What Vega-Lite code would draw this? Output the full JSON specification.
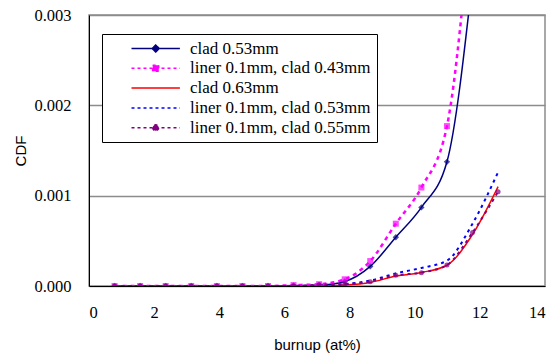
{
  "$schema": "https://vega.github.io/schema/vega-lite/v6.json",
  "autosize": {"type": "none"},
  "padding": {"left": 89, "top": 15, "right": 7, "bottom": 67},
  "width": 456,
  "height": 271,
  "background": "white",
  "config": {
    "font": "Liberation Serif",
    "view": {"stroke": "#8c8c8c", "strokeWidth": 1.5},
    "axis": {"domainColor": "black", "domainWidth": 1, "tickColor": "#333333", "labelColor": "black", "titleColor": "black"}
  },
  "data": {
    "values": [
      {"s": "clad 0.53mm", "x": 0.785, "y": 0},
      {"s": "clad 0.53mm", "x": 1.57, "y": 0},
      {"s": "clad 0.53mm", "x": 2.355, "y": 0},
      {"s": "clad 0.53mm", "x": 3.14, "y": 0},
      {"s": "clad 0.53mm", "x": 3.925, "y": 0},
      {"s": "clad 0.53mm", "x": 4.71, "y": 0},
      {"s": "clad 0.53mm", "x": 5.495, "y": 0},
      {"s": "clad 0.53mm", "x": 6.28, "y": 0.000005},
      {"s": "clad 0.53mm", "x": 7.065, "y": 0.00001},
      {"s": "clad 0.53mm", "x": 7.85, "y": 0.00005},
      {"s": "clad 0.53mm", "x": 8.635, "y": 0.000217},
      {"s": "clad 0.53mm", "x": 9.42, "y": 0.00054},
      {"s": "clad 0.53mm", "x": 10.205, "y": 0.00087},
      {"s": "clad 0.53mm", "x": 10.99, "y": 0.001375},
      {"s": "clad 0.53mm", "x": 11.775, "y": 0.0034},
      {"s": "liner 0.1mm, clad 0.43mm", "x": 0.785, "y": 0},
      {"s": "liner 0.1mm, clad 0.43mm", "x": 1.57, "y": 0},
      {"s": "liner 0.1mm, clad 0.43mm", "x": 2.355, "y": 0},
      {"s": "liner 0.1mm, clad 0.43mm", "x": 3.14, "y": 0},
      {"s": "liner 0.1mm, clad 0.43mm", "x": 3.925, "y": 0},
      {"s": "liner 0.1mm, clad 0.43mm", "x": 4.71, "y": 0},
      {"s": "liner 0.1mm, clad 0.43mm", "x": 5.495, "y": 0},
      {"s": "liner 0.1mm, clad 0.43mm", "x": 6.28, "y": 0.00001},
      {"s": "liner 0.1mm, clad 0.43mm", "x": 7.065, "y": 0.00002},
      {"s": "liner 0.1mm, clad 0.43mm", "x": 7.85, "y": 0.000074},
      {"s": "liner 0.1mm, clad 0.43mm", "x": 8.635, "y": 0.000276},
      {"s": "liner 0.1mm, clad 0.43mm", "x": 9.42, "y": 0.00069},
      {"s": "liner 0.1mm, clad 0.43mm", "x": 10.205, "y": 0.00109},
      {"s": "liner 0.1mm, clad 0.43mm", "x": 10.99, "y": 0.00177},
      {"s": "liner 0.1mm, clad 0.43mm", "x": 11.775, "y": 0.0043},
      {"s": "clad 0.63mm", "x": 0.785, "y": 0},
      {"s": "clad 0.63mm", "x": 1.57, "y": 0},
      {"s": "clad 0.63mm", "x": 2.355, "y": 0},
      {"s": "clad 0.63mm", "x": 3.14, "y": 0},
      {"s": "clad 0.63mm", "x": 3.925, "y": 0},
      {"s": "clad 0.63mm", "x": 4.71, "y": 0},
      {"s": "clad 0.63mm", "x": 5.495, "y": 0},
      {"s": "clad 0.63mm", "x": 6.28, "y": 0},
      {"s": "clad 0.63mm", "x": 7.065, "y": 0},
      {"s": "clad 0.63mm", "x": 7.85, "y": 0.00001},
      {"s": "clad 0.63mm", "x": 8.635, "y": 0.00004},
      {"s": "clad 0.63mm", "x": 9.42, "y": 0.00011},
      {"s": "clad 0.63mm", "x": 10.205, "y": 0.00015},
      {"s": "clad 0.63mm", "x": 10.99, "y": 0.00023},
      {"s": "clad 0.63mm", "x": 11.775, "y": 0.00057},
      {"s": "clad 0.63mm", "x": 12.56, "y": 0.0011},
      {"s": "liner 0.1mm, clad 0.53mm", "x": 0.785, "y": 0},
      {"s": "liner 0.1mm, clad 0.53mm", "x": 1.57, "y": 0},
      {"s": "liner 0.1mm, clad 0.53mm", "x": 2.355, "y": 0},
      {"s": "liner 0.1mm, clad 0.53mm", "x": 3.14, "y": 0},
      {"s": "liner 0.1mm, clad 0.53mm", "x": 3.925, "y": 0},
      {"s": "liner 0.1mm, clad 0.53mm", "x": 4.71, "y": 0},
      {"s": "liner 0.1mm, clad 0.53mm", "x": 5.495, "y": 0},
      {"s": "liner 0.1mm, clad 0.53mm", "x": 6.28, "y": 0},
      {"s": "liner 0.1mm, clad 0.53mm", "x": 7.065, "y": 0},
      {"s": "liner 0.1mm, clad 0.53mm", "x": 7.85, "y": 0.00002},
      {"s": "liner 0.1mm, clad 0.53mm", "x": 8.635, "y": 0.00006},
      {"s": "liner 0.1mm, clad 0.53mm", "x": 9.42, "y": 0.00014},
      {"s": "liner 0.1mm, clad 0.53mm", "x": 10.205, "y": 0.0002},
      {"s": "liner 0.1mm, clad 0.53mm", "x": 10.99, "y": 0.00028},
      {"s": "liner 0.1mm, clad 0.53mm", "x": 11.775, "y": 0.00069},
      {"s": "liner 0.1mm, clad 0.53mm", "x": 12.56, "y": 0.00126},
      {"s": "liner 0.1mm, clad 0.55mm", "x": 0.785, "y": 0},
      {"s": "liner 0.1mm, clad 0.55mm", "x": 1.57, "y": 0},
      {"s": "liner 0.1mm, clad 0.55mm", "x": 2.355, "y": 0},
      {"s": "liner 0.1mm, clad 0.55mm", "x": 3.14, "y": 0},
      {"s": "liner 0.1mm, clad 0.55mm", "x": 3.925, "y": 0},
      {"s": "liner 0.1mm, clad 0.55mm", "x": 4.71, "y": 0},
      {"s": "liner 0.1mm, clad 0.55mm", "x": 5.495, "y": 0},
      {"s": "liner 0.1mm, clad 0.55mm", "x": 6.28, "y": 0},
      {"s": "liner 0.1mm, clad 0.55mm", "x": 7.065, "y": 0.000015},
      {"s": "liner 0.1mm, clad 0.55mm", "x": 7.85, "y": 0.00002},
      {"s": "liner 0.1mm, clad 0.55mm", "x": 8.635, "y": 0.000048},
      {"s": "liner 0.1mm, clad 0.55mm", "x": 9.42, "y": 0.000118},
      {"s": "liner 0.1mm, clad 0.55mm", "x": 10.205, "y": 0.000148},
      {"s": "liner 0.1mm, clad 0.55mm", "x": 10.99, "y": 0.000232},
      {"s": "liner 0.1mm, clad 0.55mm", "x": 11.775, "y": 0.000592},
      {"s": "liner 0.1mm, clad 0.55mm", "x": 12.56, "y": 0.001044}
    ]
  },
  "encoding": {
    "x": {
      "field": "x", "type": "quantitative",
      "scale": {"domain": [0, 14], "nice": false, "zero": false},
      "axis": {
        "values": [0, 2, 4, 6, 8, 10, 12, 14],
        "grid": false,
        "ticks": false,
        "labelFont": "Liberation Serif",
        "labelFontSize": 16.5,
        "labelPadding": 18,
        "title": "burnup (at%)",
        "titleFont": "Liberation Sans",
        "titleFontSize": 15,
        "titleFontWeight": "normal",
        "titlePadding": 17
      }
    },
    "y": {
      "field": "y", "type": "quantitative",
      "scale": {"domain": [0, 0.003], "nice": false},
      "axis": {
        "values": [0, 0.001, 0.002, 0.003],
        "format": ".3f",
        "grid": true,
        "gridColor": "#8c8c8c",
        "gridWidth": 1.5,
        "ticks": false,
        "labelFont": "Liberation Serif",
        "labelFontSize": 16.5,
        "labelPadding": 18,
        "title": "CDF",
        "titleFont": "Liberation Sans",
        "titleFontSize": 15,
        "titleFontWeight": "normal",
        "titlePadding": 5
      }
    }
  },
  "layer": [
    {
      "transform": [{"filter": "datum.s == 'clad 0.53mm'"}],
      "mark": {"type": "line", "interpolate": "monotone", "clip": true, "strokeWidth": 1.5},
      "encoding": {
        "color": {
          "field": "s", "type": "nominal",
          "scale": {
            "domain": ["clad 0.53mm", "liner 0.1mm, clad 0.43mm", "clad 0.63mm", "liner 0.1mm, clad 0.53mm", "liner 0.1mm, clad 0.55mm"],
            "range": ["#000080", "#FF00FF", "#FF0000", "#0000FF", "#800080"]
          },
          "legend": {
            "title": null,
            "orient": "none",
            "legendX": 13,
            "legendY": 19,
            "padding": 6,
            "fillColor": "white",
            "strokeColor": "black",
            "symbolSize": 100,
            "symbolType": "M3,0L12.68,0",
            "symbolStrokeWidth": 1.5,
            "rowPadding": 1.8,
            "labelOffset": 65,
            "labelFont": "Liberation Serif",
            "labelFontSize": 17,
            "labelColor": "black",
            "labelLimit": 400,
            "encode": {
              "symbols": {
                "update": {
                  "shape": {"signal": "datum.value == 'clad 0.53mm' ? 'M3,0L12.68,0M7.84,-0.7L8.54,0L7.84,0.7L7.14,0Z' : datum.value == 'liner 0.1mm, clad 0.43mm' ? 'M3,0L12.68,0M7.24,-0.6L8.44,-0.6L8.44,0.6L7.24,0.6Z' : datum.value == 'liner 0.1mm, clad 0.55mm' ? 'M3,0L12.68,0M7.24,0A0.6,0.6,0,1,0,8.44,0A0.6,0.6,0,1,0,7.24,0Z' : 'M3,0L12.68,0'"},
                  "fill": {"scale": "color", "field": "value"},
                  "stroke": {"scale": "color", "field": "value"},
                  "strokeDash": {"signal": "indexof(datum.value, 'liner') == 0 ? '3,3' : '1,0'"}
                }
              }
            }
          }
        }
      }
    },
    {
      "transform": [{"filter": "datum.s == 'liner 0.1mm, clad 0.43mm'"}],
      "mark": {"type": "line", "interpolate": "monotone", "clip": true, "strokeWidth": 2.5, "strokeDash": [4, 4]},
      "encoding": {"color": {"field": "s", "type": "nominal"}}
    },
    {
      "transform": [{"filter": "datum.s == 'clad 0.63mm'"}],
      "mark": {"type": "line", "interpolate": "monotone", "clip": true, "strokeWidth": 1.5},
      "encoding": {"color": {"field": "s", "type": "nominal"}}
    },
    {
      "transform": [{"filter": "datum.s == 'liner 0.1mm, clad 0.53mm'"}],
      "mark": {"type": "line", "interpolate": "monotone", "clip": true, "strokeWidth": 2, "strokeDash": [3, 4]},
      "encoding": {"color": {"field": "s", "type": "nominal"}}
    },
    {
      "transform": [{"filter": "datum.s == 'liner 0.1mm, clad 0.55mm'"}],
      "mark": {"type": "line", "interpolate": "monotone", "clip": true, "strokeWidth": 2, "strokeDash": [3, 4]},
      "encoding": {"color": {"field": "s", "type": "nominal"}}
    },
    {
      "transform": [{"filter": "datum.s == 'clad 0.53mm' && datum.y <= 0.003"}],
      "mark": {"type": "point", "shape": "diamond", "filled": true, "color": "#000080", "size": 40, "clip": true}
    },
    {
      "transform": [{"filter": "datum.s == 'liner 0.1mm, clad 0.43mm' && datum.y <= 0.003"}],
      "mark": {"type": "point", "shape": "square", "filled": true, "color": "#FF00FF", "size": 36, "clip": true}
    },
    {
      "transform": [{"filter": "datum.s == 'liner 0.1mm, clad 0.55mm'"}],
      "mark": {"type": "point", "shape": "circle", "filled": true, "color": "#800080", "size": 25, "clip": true}
    }
  ]
}
